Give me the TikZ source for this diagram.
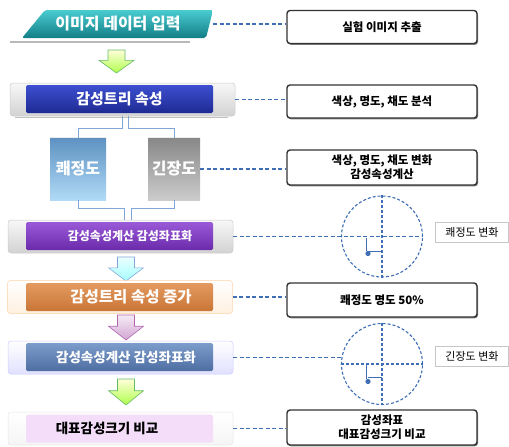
\documentclass[tikz,border=0pt]{standalone}
\usepackage{fontspec}
\setmainfont{Noto Sans CJK KR}
\usetikzlibrary{shadows,calc}
\definecolor{dashblue}{HTML}{3F6EB5}
\definecolor{connblue}{HTML}{7FA6D6}
\definecolor{tealA}{HTML}{49CCD0}
\definecolor{tealB}{HTML}{137E86}
\definecolor{blueA}{HTML}{3D4FD0}
\definecolor{blueB}{HTML}{1E2A92}
\definecolor{purA}{HTML}{9A5AD8}
\definecolor{purB}{HTML}{6A2AAA}
\definecolor{orA}{HTML}{E49A60}
\definecolor{orB}{HTML}{C97636}
\definecolor{stA}{HTML}{7C9CCB}
\definecolor{stB}{HTML}{4E6DA2}
\definecolor{kA}{HTML}{5E92C2}
\definecolor{kB}{HTML}{B0DAF6}
\definecolor{gA}{HTML}{888888}
\definecolor{gB}{HTML}{CCCCCC}
\definecolor{lav}{HTML}{F3DDF8}
% visual top colour #1, visual bottom colour #2
\tikzset{vgrad/.style 2 args={top color=#1, bottom color=#2}}
\newcommand\blkarrow[6]{%
  \path[draw=#6, line width=0.6pt, vgrad={#4}{#5}]
    ({#1-8.5},{#2}) -- ({#1+8.5},{#2}) -- ({#1+8.5},{#2+0.45*(#3-#2)})
    -- ({#1+17.5},{#2+0.45*(#3-#2)}) -- ({#1},{#3})
    -- ({#1-17.5},{#2+0.45*(#3-#2)}) -- ({#1-8.5},{#2+0.45*(#3-#2)}) -- cycle;}
\begin{document}
\begin{tikzpicture}[x=1pt,y=-1pt,
  rbox/.style={draw=black!80, line width=1.4pt, rounded corners=3pt, fill=white,
    minimum width=190pt, align=center, inner sep=2pt,
    font=\bfseries\fontsize{11.5}{14}\selectfont,
    drop shadow={shadow xshift=1pt, shadow yshift=-1.3pt, opacity=0.5, fill=black}},
  dline/.style={draw=dashblue, line width=1.25pt, dash pattern=on 4pt off 2.5pt},
  cline/.style={draw=dashblue, line width=1.1pt, dash pattern=on 3pt off 2pt},
  conn/.style={draw=connblue, line width=0.8pt},
  tube/.style={rounded corners=3pt, line width=0.5pt, minimum width=225pt,
    minimum height=33pt, inner sep=0pt},
  innerbox/.style={minimum width=187pt, minimum height=28pt, inner sep=0pt,
    rounded corners=1.5pt},
  wlabel/.style={text=white, font=\bfseries\fontsize{15}{18}\selectfont, inner sep=0pt},
  lbox/.style={draw=gray!45, line width=0.6pt, fill=white, minimum width=73pt,
    minimum height=20pt, inner sep=0pt, font=\fontsize{11}{13}\selectfont},
  ring/.style={circle, cline, minimum size=81pt, inner sep=0pt},
]
\useasboundingbox (0,0) rectangle (509,447);

% ---- box 1
\shade[vgrad={tealA}{tealB}, rounded corners=2pt]
  (45,10) -- (213,10) -- (206,38) -- (22,38) -- cycle;
\draw[gray!55, line width=1.5pt] (10,42) -- (190,42);
\node[wlabel, font=\bfseries\fontsize{16}{18}\selectfont, minimum width=190pt, minimum height=28pt]
  (b1) at (118,24) {이미지 데이터 입력};
\node[rbox, minimum height=33pt] (r1) at (382,27) {실험 이미지 추출};
\draw[dline] (b1.east) -- (b1.east -| r1.west);

\blkarrow{116.5}{50}{73}{yellow!15!white}{green!45!yellow!70!white}{green!55!black!60}

% ---- box 2
\node[tube, vgrad={gray!6}{gray!35}, draw=gray!40] (b2t) at (122.5,99.5) {};
\node[innerbox, vgrad={blueA}{blueB}] (b2) at (119.5,99) {};
\node[wlabel] (b2x) at (b2) {감성트리 속성};
\draw[gray!50, line width=1.2pt] (15,117.5) -- (228,117.5);
\node[rbox, minimum height=33pt] (r2) at (382,101.5) {색상, 명도, 채도 분석};
\draw[dline] (b2t.east) -- (b2t.east -| r2.west);

% ---- two boxes
\node[minimum width=56pt, minimum height=62pt, inner sep=0pt, vgrad={kA}{kB}]
  (k) at (78,169) {};
\node[wlabel, font=\bfseries\fontsize{16}{18}\selectfont] (kx) at (k) {쾌정도};
\node[minimum width=52pt, minimum height=62pt, inner sep=0pt, vgrad={gA}{gB}]
  (g) at (174,169) {};
\node[wlabel, font=\bfseries\fontsize{16}{18}\selectfont] (gx) at (g) {긴장도};
\draw[white!85!gray, line width=1pt] (k.north west) -- (k.north east);
\draw[white!85!gray, line width=1pt] (g.north west) -- (g.north east);
\draw[conn] ($(b2t.south)+(-0.5,0)$) -- ++(0,12) -| (k.north);
\draw[conn] ($(b2t.south)+(5.5,0)$) -- ++(0,12) -| (g.north);
\node[rbox, minimum height=35pt] (r3) at (382,167.5) {색상, 명도, 채도 변화\\감성속성계산};
\draw[dline] (g.east) -- (g.east -| r3.west);

% ---- box 4
\node[tube, vgrad={gray!6}{gray!35}, draw=gray!40] (b4t) at (120.5,236.5) {};
\node[innerbox, vgrad={purA}{purB}] (b4) at (119.5,236) {};
\node[wlabel, font=\bfseries\fontsize{12}{14}\selectfont] (b4x) at (130,236) {감성속성계산 감성좌표화};
\draw[conn] (k.south) -- ++(0,8) -| ($(b4t.north)+(3.5,0)$);
\draw[conn] (g.south) -- ++(0,8) -| ($(b4t.north)+(10.5,0)$);
\node[ring] (c1) at (382,236.5) {};
\draw[dline] (b4t.east) -- (b4t.east -| c1.east);
\draw[cline] (c1.north) -- (c1.south);
\fill[dashblue] ($(c1.center)+(-14,17)$) circle (2.6);
\draw[dashblue, line width=0.8pt] ($(c1.center)+(-16,1)$) -- ++(0,13.5);
\draw[dashblue, line width=0.8pt] ($(c1.center)+(-14,15)$) -- ($(c1.center)+(0,15)$);
\node[lbox] (l1) at (472,232) {쾌정도 변화};

\blkarrow{126}{257}{281}{cyan!8!white}{cyan!35!white}{cyan!50!blue!50}

% ---- box 5
\node[tube, vgrad={white}{orange!12}, draw=orange!35] (b5t) at (120,297) {};
\node[innerbox, vgrad={orA}{orB}] (b5) at (119.5,297) {};
\node[wlabel, font=\bfseries\fontsize{15.5}{18}\selectfont] (b5x) at (131,297) {감성트리 속성 증가};
\node[rbox, minimum height=34pt] (r5) at (382,300) {쾌정도 명도 50\%};
\draw[dline] (b5t.east) -- (b5t.east -| r5.west);

\blkarrow{126}{315}{340}{violet!8!white}{violet!35!white}{violet!60!white}

% ---- box 6
\node[tube, vgrad={white}{blue!12}, draw=blue!20] (b6t) at (120.5,357.5) {};
\node[innerbox, vgrad={stA}{stB}] (b6) at (119.5,357) {};
\node[wlabel, font=\bfseries\fontsize{13.5}{16}\selectfont] (b6x) at (126,357) {감성속성계산 감성좌표화};
\node[ring] (c2) at (382,364) {};
\draw[dline] (b6t.east) -- (b6t.east -| c2.west);
\draw[cline] (c2.west) -- (c2.east);
\draw[cline] (c2.north) -- (c2.south);
\fill[dashblue] ($(c2.center)+(-14,17.5)$) circle (2.6);
\draw[dashblue, line width=0.8pt] ($(c2.center)+(-16,1)$) -- ++(0,13.5);
\draw[dashblue, line width=0.8pt] ($(c2.center)+(-14,13.5)$) -- ($(c2.center)+(0,13.5)$);
\node[lbox] (l2) at (472,356) {긴장도 변화};

\blkarrow{126}{379}{405}{yellow!15!white}{green!45!yellow!70!white}{green!55!black!60}

% ---- box 7
\node[tube, vgrad={white}{gray!8}, draw=gray!20] (b7t) at (120.5,428.5) {};
\node[innerbox, fill=lav] (b7) at (119.5,428.5) {};
\node[font=\bfseries\fontsize{13.5}{16}\selectfont, inner sep=0pt] (b7x) at (107,428.5) {대표감성크기 비교};
\node[rbox, minimum height=35pt] (r7) at (382,427.5) {감성좌표\\대표감성크기 비교};
\draw[dline] (b7t.east) -- (b7t.east -| r7.west);
\end{tikzpicture}
\end{document}
